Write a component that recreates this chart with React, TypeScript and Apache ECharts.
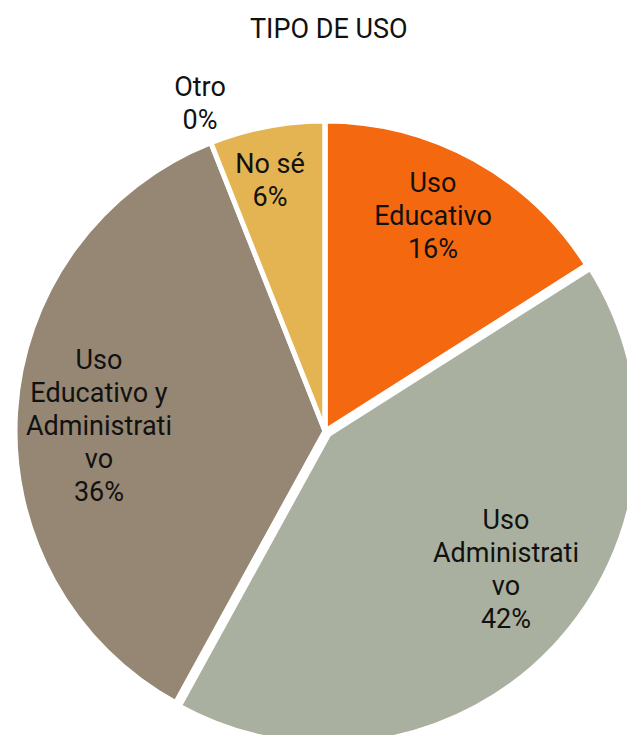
import React, { useEffect, useRef } from "react";
import * as echarts from "echarts";

const categories = ["Uso Educativo", "Uso Administrativo", "Uso Educativo y Administrativo", "No sé", "Otro"];
const labelTexts = ["Uso\nEducativo", "Uso\nAdministrati\nvo", "Uso\nEducativo y\nAdministrati\nvo", "No sé", "Otro"];
const values = [16, 42, 36, 6, 0];
const colors = ["#F4690F", "#AAB09F", "#958773", "#E4B452", "#FFFFFF"];

const FONT = "Roboto, 'Open Sans', sans-serif";

export default function App() {
  const ref = useRef<HTMLDivElement>(null);
  useEffect(() => {
    if (!ref.current) return;
    const chart = echarts.init(ref.current, undefined, { renderer: "svg" });
    const center = [325, 431];
    const R = 310;
    const base = categories.map((name, i) => ({
      name,
      value: values[i],
      itemStyle: { color: colors[i] },
      selected: i === 1,
    }));
    const labelData = categories.map((name, i) => ({
      name,
      value: values[i],
      label: {
        formatter: () => `${labelTexts[i]}\n${values[i]}%`,
      },
    }));
    chart.setOption({
      animation: false,
      title: {
        text: "TIPO DE USO",
        left: 245,
        top: 10,
        textStyle: { fontFamily: FONT, fontSize: 27, fontWeight: "normal", color: "#111" },
      },
      series: [
        {
          type: "pie",
          center,
          radius: [0, R],
          startAngle: 90,
          clockwise: true,
          selectedMode: "single",
          selectedOffset: 5,
          silent: true,
          label: { show: false },
          labelLine: { show: false },
          itemStyle: { borderColor: "#fff", borderWidth: 5 },
          emphasis: { disabled: true },
          data: base,
        },
        {
          type: "pie",
          center,
          radius: [153, R],
          startAngle: 90,
          clockwise: true,
          silent: true,
          itemStyle: { color: "transparent", borderWidth: 0 },
          labelLine: { show: false },
          label: {
            show: true,
            position: "inside",
            fontFamily: FONT,
            fontSize: 27,
            lineHeight: 33,
            color: "#111",
            align: "center",
          },
          labelLayout: (p: any) => {
            if (p.dataIndex === 4) return { dx: -125, dy: -93 };
            if (p.dataIndex === 3) return { dx: -11, dy: -20 };
            if (p.dataIndex === 2) return { dx: 8, dy: 10 };
            if (p.dataIndex === 1) return { dx: 10, dy: -22 };
            if (p.dataIndex === 0) return { dx: -5, dy: -10 };
            return {};
          },
          emphasis: { disabled: true },
          data: labelData,
        },
      ],
    });
    return () => chart.dispose();
  }, []);
  return (
    <div
      ref={ref}
      style={{ position: "fixed", left: 0, top: 0, width: 627, height: 735, background: "#fff" }}
    />
  );
}
